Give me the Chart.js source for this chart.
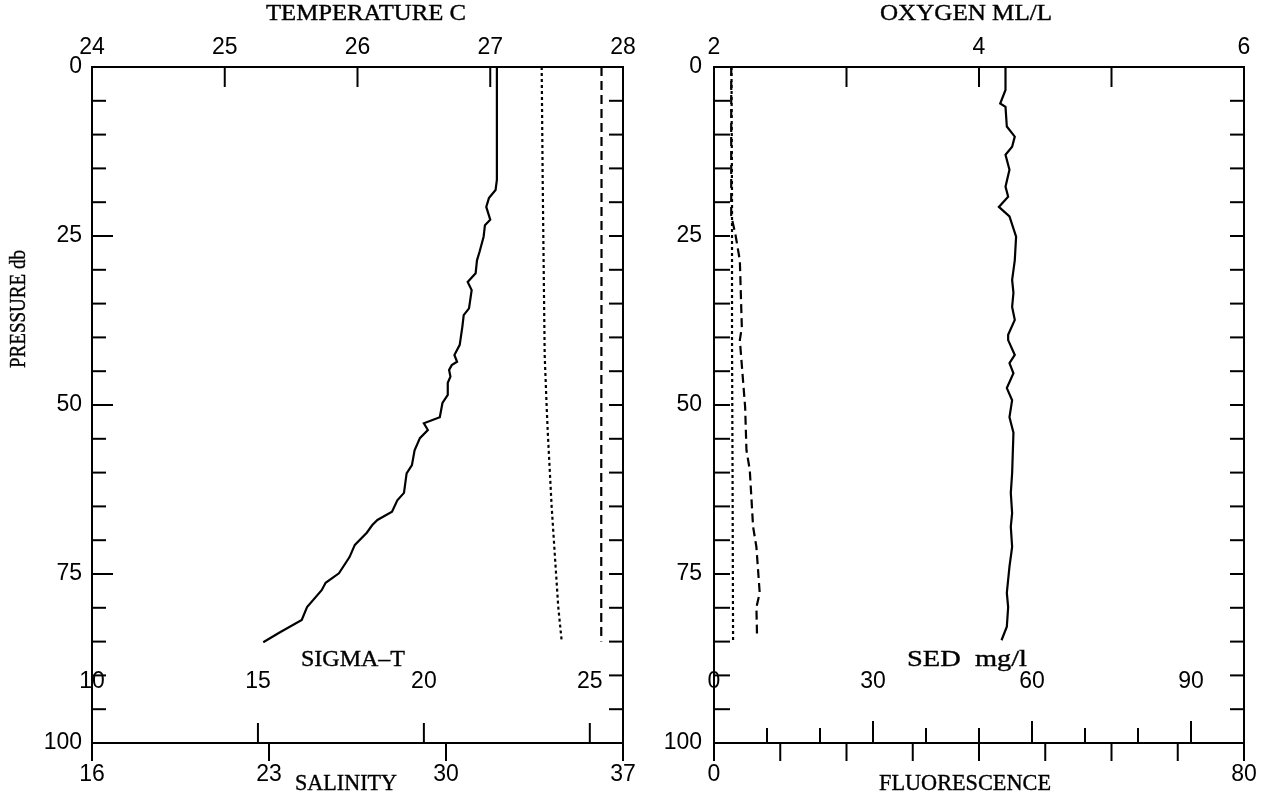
<!DOCTYPE html>
<html>
<head>
<meta charset="utf-8">
<script src="https://cdn.jsdelivr.net/npm/chart.js@4.4.0/dist/chart.umd.min.js"></script>
<style>
  html, body { margin: 0; padding: 0; background: #fff; }
  #wrap { position: relative; width: 1264px; height: 797px; }
  canvas { position: absolute; top: 0; }
</style>
</head>
<body>
<div id="wrap">
  <canvas id="left" width="640" height="797" style="left:0"></canvas>
  <canvas id="right" width="624" height="797" style="left:640px"></canvas>
</div>
<script>
// axis ticks
const pressureTicks = [0, 5, 10, 15, 20, 25, 30, 35, 40, 45, 50, 55, 60, 65, 70, 75, 80, 85, 90, 95, 100];
const pressureLabels = [0, 25, 50, 75, 100];
const tempTicks = [24, 25, 26, 27, 28];
const salTicks = [16, 23, 30, 37];
const sigmaTicks = [10, 15, 20, 25];
const oxTicks = [2, 3, 4, 5, 6];
const oxLabels = [2, 4, 6];
const sedTicks = [0, 10, 20, 30, 40, 50, 60, 70, 80, 90, 100];
const sedLabels = [0, 30, 60, 90];
const fluorTicks = [0, 10, 20, 30, 40, 50, 60, 70, 80];
const fluorLabels = [0, 80];

// left panel profiles
const pressT = [0, 16.7, 18.2, 19.4, 20.7, 22.6, 23.4, 25.1, 27.3, 28.6, 30.5, 31.8, 33.0, 35.7, 36.7, 38.4, 41.1, 42.6, 43.6, 44.1, 44.8, 45.8, 46.7, 48.5, 49.7, 51.8, 52.7, 53.7, 54.9, 56.7, 58.9, 60.1, 63.0, 64.1, 65.8, 67.0, 67.8, 68.9, 70.7, 72.5, 74.9, 76.3, 77.4, 79.9, 81.8, 83.7, 85.1];
const temperature = [27.05, 27.05, 27.04, 26.99, 26.97, 27.00, 26.96, 26.95, 26.92, 26.90, 26.89, 26.83, 26.86, 26.84, 26.80, 26.79, 26.77, 26.73, 26.75, 26.71, 26.69, 26.70, 26.68, 26.68, 26.64, 26.62, 26.50, 26.53, 26.47, 26.43, 26.41, 26.37, 26.35, 26.30, 26.26, 26.15, 26.11, 26.07, 25.98, 25.94, 25.86, 25.76, 25.73, 25.62, 25.58, 25.41, 25.29];
const pressSig = [0, 16.7, 42.6, 50.3, 54.7, 65.0, 72.5, 79.9, 84.8];
const sigmaT = [23.55, 23.58, 23.64, 23.70, 23.74, 23.85, 23.95, 24.05, 24.15];
const pressSal = [0, 30, 60, 85];
const salinity = [36.15, 36.15, 36.14, 36.14];

// right panel profiles
const pressOx = [0, 3.4, 5.4, 5.9, 8.8, 10.3, 11.8, 13.0, 15.2, 17.7, 19.2, 20.7, 22.1, 25.1, 28.6, 31.5, 33.4, 35.5, 37.4, 39.6, 40.4, 42.6, 43.8, 45.3, 47.5, 49.3, 51.8, 54.1, 60.1, 63.0, 66.0, 68.0, 71.0, 73.9, 77.8, 79.9, 82.8, 84.8];
const oxygen = [4.20, 4.20, 4.16, 4.20, 4.21, 4.27, 4.25, 4.20, 4.23, 4.20, 4.22, 4.15, 4.23, 4.28, 4.27, 4.25, 4.26, 4.25, 4.27, 4.22, 4.22, 4.27, 4.23, 4.26, 4.21, 4.25, 4.23, 4.26, 4.25, 4.24, 4.25, 4.24, 4.25, 4.23, 4.21, 4.22, 4.21, 4.17];
const pressSed = [0, 20, 40, 60, 85];
const sed = [3.3, 3.4, 3.4, 3.5, 3.6];
const pressFl = [0, 22, 24.6, 28.6, 38.5, 40.4, 50.3, 56.7, 59.6, 68, 71, 77.8, 79.9, 84.3];
const fluorescence = [2.6, 2.6, 3.2, 3.9, 4.2, 3.9, 4.7, 4.9, 5.4, 5.9, 6.4, 6.9, 6.4, 6.5];

const tickFont = { family: 'Liberation Sans', size: 23 };
const titleFont = '24px "Liberation Serif", serif';

function profile(press, vals) {
  return press.map((p, i) => ({ x: vals[i], y: p }));
}

function line(data, axis, dash) {
  return {
    data, xAxisID: axis, yAxisID: 'y', showLine: true,
    borderColor: '#000', borderWidth: 2.2, borderDash: dash,
    pointRadius: 0, fill: false
  };
}

function scale(pos, min, max, ticks, labels, pad, size, shown) {
  return {
    type: 'linear', position: pos, min, max, reverse: pos === 'left',
    display: shown !== false,
    border: { display: false },
    grid: { display: false, drawTicks: false },
    afterBuildTicks: s => { s.ticks = ticks.map(v => ({ value: v })); },
    afterFit: s => {
      if (pos === 'left') s.width = size; else s.height = size;
      // keep the frame where it is, labels may hang over the edges
      s.paddingLeft = s.paddingRight = s.paddingTop = s.paddingBottom = 0;
    },
    ticks: {
      autoSkip: false, maxRotation: 0, padding: pad, color: '#000', font: tickFont,
      callback: v => labels.includes(v) ? String(v) : ''
    }
  };
}

const frameTicks = {
  id: 'frameTicks',
  afterDraw(chart, args, opts) {
    const ctx = chart.ctx, a = chart.chartArea;
    ctx.save();
    ctx.strokeStyle = '#000';
    ctx.lineWidth = 2;
    ctx.strokeRect(a.left, a.top, a.right - a.left, a.bottom - a.top);
    opts.marks.forEach(m => {
      const s = chart.scales[m.scale];
      m.values.forEach(v => {
        const len = (m.long && m.long.includes(v)) ? m.longLen : m.len;
        ctx.beginPath();
        if (m.edge === 'left' || m.edge === 'right') {
          const y = s.getPixelForValue(v);
          const x0 = m.edge === 'left' ? a.left : a.right;
          const sign = m.edge === 'left' ? 1 : -1;
          ctx.moveTo(x0, y);
          ctx.lineTo(x0 + sign * len, y);
        } else {
          const x = s.getPixelForValue(v);
          const y0 = m.edge === 'top' ? a.top : a.bottom;
          const sign = (m.edge === 'top' ? 1 : -1) * (m.out ? -1 : 1);
          ctx.moveTo(x, y0);
          ctx.lineTo(x, y0 + sign * len);
        }
        ctx.stroke();
      });
    });
    // axis drawn inside the frame
    ctx.fillStyle = '#000';
    ctx.font = '23px "Liberation Sans"';
    ctx.textAlign = 'center';
    ctx.textBaseline = 'middle';
    const inner = opts.inner;
    const s = chart.scales[inner.scale];
    inner.labels.forEach(v => ctx.fillText(String(v), s.getPixelForValue(v), a.bottom - inner.rise));
    // titles, squeezed or widened to the width they have on the plot
    ctx.font = titleFont;
    ctx.lineWidth = 0.4;
    opts.titles.forEach(t => {
      const k = t.w / ctx.measureText(t.text).width;
      ctx.save();
      ctx.translate(t.x, t.y);
      if (t.rotate) ctx.rotate(-Math.PI / 2);
      ctx.scale(k, 1);
      ctx.fillText(t.text, 0, 0);
      ctx.strokeText(t.text, 0, 0);
      ctx.restore();
    });
    ctx.restore();
  }
};
Chart.register(frameTicks);

const common = {
  responsive: false,
  animation: false,
  plugins: { legend: { display: false }, tooltip: { enabled: false } }
};

new Chart(document.getElementById('left'), {
  type: 'scatter',
  data: {
    datasets: [
      line(profile(pressT, temperature), 'temp', []),
      line(profile(pressSig, sigmaT), 'sig', [3, 3]),
      line(profile(pressSal, salinity), 'sal', [9, 5])
    ]
  },
  options: {
    ...common,
    layout: { padding: { left: 0, right: 17, top: 0, bottom: 0 } },
    scales: {
      y: scale('left', 0, 100, pressureTicks, pressureLabels, 10, 92),
      temp: scale('top', 24, 28, tempTicks, tempTicks, 6, 67),
      sal: scale('bottom', 16, 37, salTicks, salTicks, 18, 54),
      sig: scale('bottom', 10, 26, sigmaTicks, sigmaTicks, 0, 0, false)
    },
    plugins: {
      ...common.plugins,
      frameTicks: {
        marks: [
          { scale: 'y', values: pressureTicks, edge: 'left', len: 14, long: [25, 50, 75], longLen: 21 },
          { scale: 'y', values: pressureTicks, edge: 'right', len: 14 },
          { scale: 'temp', values: tempTicks, edge: 'top', len: 20 },
          { scale: 'sal', values: salTicks, edge: 'bottom', len: 18, out: true },
          { scale: 'sig', values: sigmaTicks, edge: 'bottom', len: 20 }
        ],
        inner: { scale: 'sig', labels: sigmaTicks, rise: 61 },
        titles: [
          { text: 'TEMPERATURE C', x: 366, y: 14, w: 200 },
          { text: 'PRESSURE db', x: 19, y: 309, w: 118, rotate: true },
          { text: 'SIGMA\u2013T', x: 353, y: 660, w: 104 },
          { text: 'SALINITY', x: 346, y: 784, w: 102 }
        ]
      }
    }
  }
});

new Chart(document.getElementById('right'), {
  type: 'scatter',
  data: {
    datasets: [
      line(profile(pressOx, oxygen), 'ox', []),
      line(profile(pressSed, sed), 'sed', [3, 3]),
      line(profile(pressFl, fluorescence), 'fl', [9, 5])
    ]
  },
  options: {
    ...common,
    layout: { padding: { left: 0, right: 20, top: 0, bottom: 0 } },
    scales: {
      y: scale('left', 0, 100, pressureTicks, pressureLabels, 12, 74),
      ox: scale('top', 2, 6, oxTicks, oxLabels, 6, 67),
      fl: scale('bottom', 0, 80, fluorTicks, fluorLabels, 18, 54),
      sed: scale('bottom', 0, 100, sedTicks, sedLabels, 0, 0, false)
    },
    plugins: {
      ...common.plugins,
      frameTicks: {
        marks: [
          { scale: 'y', values: pressureTicks, edge: 'left', len: 16 },
          { scale: 'y', values: pressureTicks, edge: 'right', len: 14 },
          { scale: 'ox', values: oxTicks, edge: 'top', len: 20 },
          { scale: 'fl', values: fluorTicks, edge: 'bottom', len: 18, out: true },
          { scale: 'sed', values: sedTicks, edge: 'bottom', len: 15, long: [30, 60, 90], longLen: 22 }
        ],
        inner: { scale: 'sed', labels: sedLabels, rise: 61 },
        titles: [
          { text: 'OXYGEN ML/L', x: 326, y: 14, w: 172 },
          { text: 'SED  mg/l', x: 327, y: 660, w: 120 },
          { text: 'FLUORESCENCE', x: 325, y: 784, w: 172 }
        ]
      }
    }
  }
});
</script>
</body>
</html>
